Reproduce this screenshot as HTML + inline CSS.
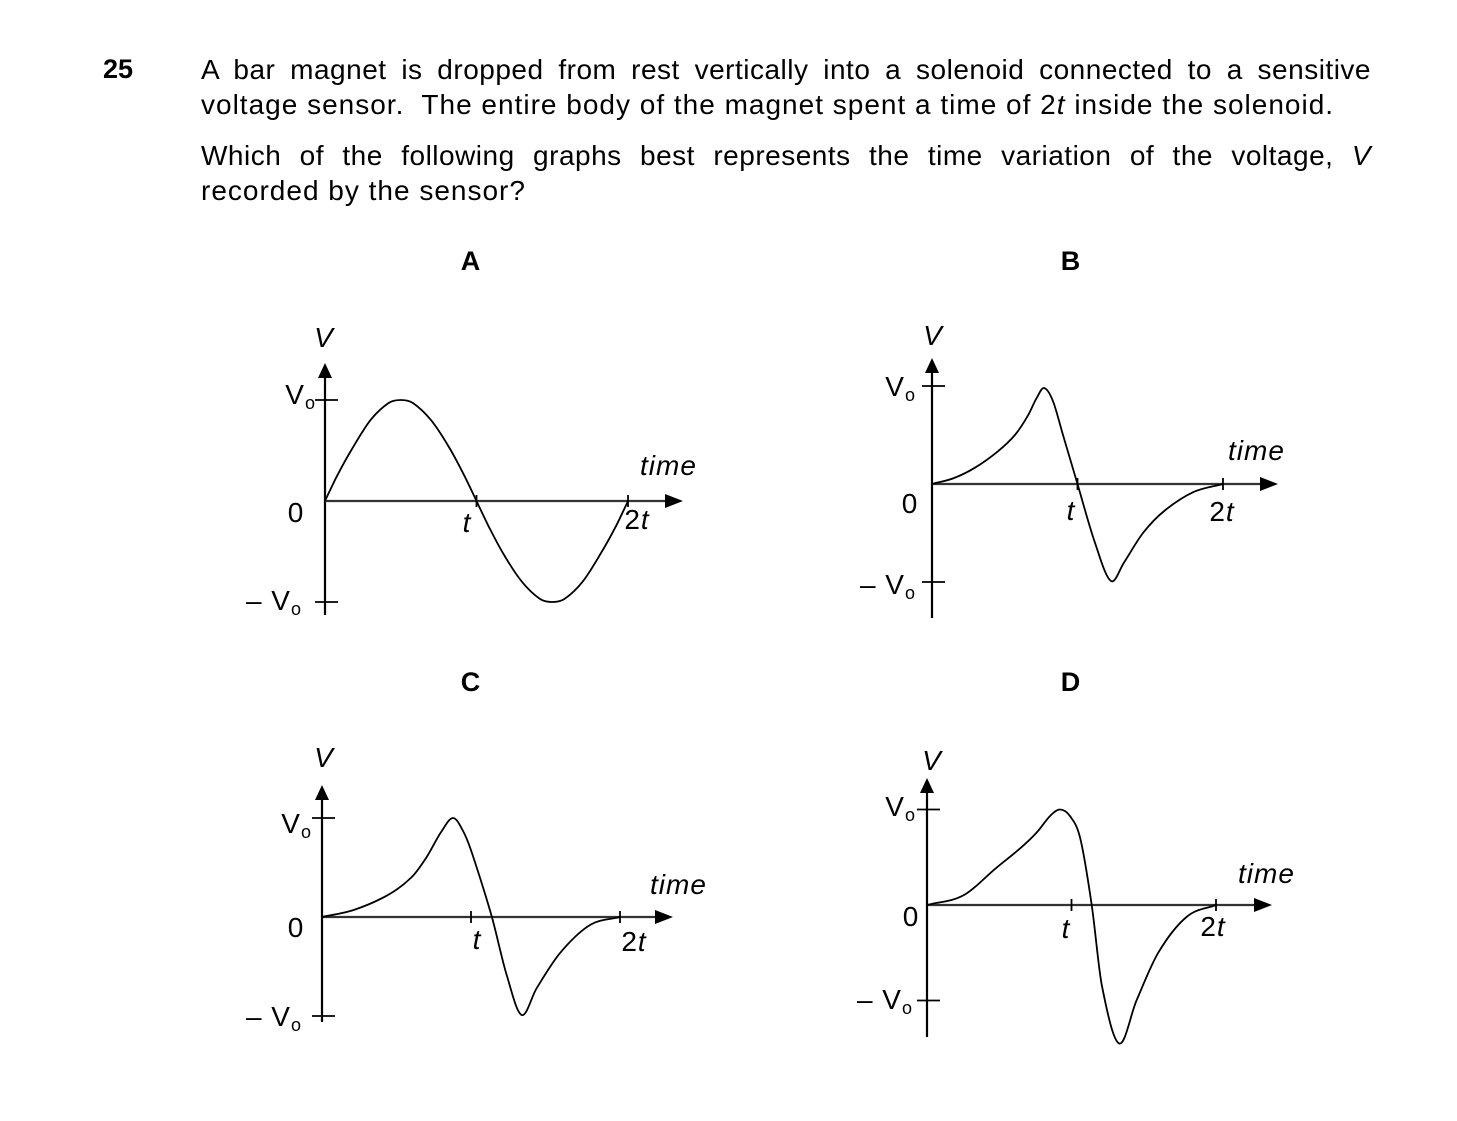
<!DOCTYPE html>
<html><head><meta charset="utf-8"><style>
html,body{margin:0;padding:0;background:#fff;}
body{width:1457px;height:1121px;position:relative;overflow:hidden;font-family:"Liberation Sans",Arial,sans-serif;color:#000;}
.ln{position:absolute;left:201px;width:1170px;font-size:28px;letter-spacing:1px;line-height:35px;white-space:nowrap;}
.j{text-align:justify;text-align-last:justify;letter-spacing:0.5px;}
svg text{font-family:"Liberation Sans",Arial,sans-serif;letter-spacing:1px;}
</style></head><body>
<div style="position:absolute;left:103px;top:54px;font-size:27px;font-weight:bold;">25</div>
<div class="ln j" style="top:52px;">A bar magnet is dropped from rest vertically into a solenoid connected to a sensitive</div>
<div class="ln" style="top:87px;">voltage sensor.&nbsp; The entire body of the magnet spent a time of 2<i>t</i> inside the solenoid.</div>
<div class="ln j" style="top:138px;">Which of the following graphs best represents the time variation of the voltage, <i>V</i></div>
<div class="ln" style="top:173px;">recorded by the sensor?</div>

<svg id="chart" width="1457" height="1121" style="position:absolute;left:0;top:0"></svg>
<script>
// Curve data: time in units of t, voltage in units of V0
const timeA = [0,0.08,0.18,0.3,0.42,0.5,0.58,0.7,0.82,0.92,1.0,1.08,1.18,1.3,1.42,1.5,1.58,1.7,1.82,1.92,2.0];
const voltA = [0,0.25,0.52,0.8,0.97,1.0,0.97,0.8,0.53,0.25,0,-0.25,-0.53,-0.8,-0.97,-1.0,-0.97,-0.8,-0.52,-0.25,0];
const timeB = [0,0.15,0.3,0.45,0.57,0.66,0.72,0.77,0.83,0.9,1.0,1.12,1.23,1.32,1.45,1.6,1.8,2.0];
const voltB = [0,0.06,0.17,0.33,0.5,0.7,0.88,0.98,0.85,0.5,0,-0.6,-0.99,-0.8,-0.5,-0.27,-0.08,0];
const timeC = [0,0.21,0.44,0.6,0.7,0.8,0.88,0.95,1.01,1.14,1.24,1.34,1.44,1.6,1.8,2.0];
const voltC = [0,0.07,0.22,0.4,0.6,0.86,1.0,0.86,0.63,0,-0.59,-0.99,-0.72,-0.36,-0.08,0];
const timeD = [0,0.25,0.48,0.65,0.76,0.85,0.92,0.99,1.06,1.14,1.21,1.33,1.45,1.6,1.8,2.0];
const voltD = [0,0.1,0.39,0.6,0.76,0.93,1.0,0.93,0.7,0,-0.84,-1.45,-1.0,-0.5,-0.12,0];
const panelLetters = ['A','B','C','D'];

const NS='http://www.w3.org/2000/svg';
const svg=document.getElementById('chart');
function mk(tag,attrs,parent){const e=document.createElementNS(NS,tag);for(const k in attrs)e.setAttribute(k,attrs[k]);(parent||svg).appendChild(e);return e;}

const panels=[
 {ox:325,oy:501,sx:151.5,sy:101,top:363,bot:615,arr:683,lx:471,ly:270,t:timeA,v:voltA,
  lab:{V:[324,347],Vo:[316,404],z:[296,522],nVo:[302,610],time:[640,475],tt:[467,532],t2:[637,529]}},
 {ox:932,oy:484,sx:145.5,sy:98,top:358,bot:618,arr:1278,lx:1071,ly:270,t:timeB,v:voltB,
  lab:{V:[933,345],Vo:[916,396],z:[910,513],nVo:[916,594],time:[1228,460],tt:[1071,520],t2:[1222,521]}},
 {ox:322,oy:917,sx:149,sy:99,top:785,bot:1022,arr:673,lx:471,ly:691,t:timeC,v:voltC,
  lab:{V:[324,767],Vo:[312,833],z:[296,937],nVo:[302,1026],time:[650,894],tt:[477,949],t2:[634,951]}},
 {ox:927,oy:905,sx:144.5,sy:95.5,top:778,bot:1037,arr:1272,lx:1071,ly:691,t:timeD,v:voltD,
  lab:{V:[932,770],Vo:[916,816],z:[911,926],nVo:[913,1009],time:[1238,883],tt:[1066,938],t2:[1213,936]}}
];

function smoothPath(pts){
  const n=pts.length, m=[];
  for(let i=0;i<n;i++){
    const a=pts[Math.max(0,i-1)], b=pts[Math.min(n-1,i+1)];
    m.push((b[1]-a[1])/(b[0]-a[0]));
  }
  let d='M'+pts[0][0].toFixed(1)+','+pts[0][1].toFixed(1);
  for(let i=0;i<n-1;i++){
    const p1=pts[i],p2=pts[i+1],dx=(p2[0]-p1[0])/3;
    d+=' C'+(p1[0]+dx).toFixed(1)+','+(p1[1]+m[i]*dx).toFixed(1)+' '+(p2[0]-dx).toFixed(1)+','+(p2[1]-m[i+1]*dx).toFixed(1)+' '+p2[0].toFixed(1)+','+p2[1].toFixed(1);
  }
  return d;
}
function vLabel(g,x,y,prefix){
  const tx=mk('text',{x:x,y:y,'font-size':28,'text-anchor':'end'},g);
  tx.appendChild(document.createTextNode(prefix+'V'));
  const s=mk('tspan',{'font-size':18,dy:5},tx);s.textContent='o';
  return tx;
}

panels.forEach((p,i)=>{
  const g=mk('g',{});
  
  
  const xS=tv=>p.ox+tv*p.sx, yS=vv=>p.oy-vv*p.sy;
  const L=mk('text',{x:p.lx,y:p.ly,'font-size':27,'font-weight':'bold','text-anchor':'middle'},g);
  L.textContent=panelLetters[i];
  
  
  const ya=mk('line',{x1:p.ox,y1:p.top+12,x2:p.ox,y2:p.bot,stroke:'#000','stroke-width':2.2},g);
  
  
  mk('polygon',{points:(p.ox-7)+','+(p.top+15)+' '+(p.ox+7)+','+(p.top+15)+' '+p.ox+','+p.top,fill:'#000'},g);
  const xa=mk('line',{x1:p.ox,y1:p.oy,x2:p.arr-14,y2:p.oy,stroke:'#333','stroke-width':2.2},g);
  
  
  mk('polygon',{points:(p.arr-18)+','+(p.oy-7)+' '+(p.arr-18)+','+(p.oy+7)+' '+p.arr+','+p.oy,fill:'#000'},g);
  [1,-1].forEach(v=>mk('line',{x1:p.ox-10,x2:p.ox+13,y1:yS(v),y2:yS(v),stroke:'#000','stroke-width':1.8},g));
  [1,2].forEach(tv=>mk('line',{x1:xS(tv),x2:xS(tv),y1:p.oy-6,y2:p.oy+6,stroke:'#000','stroke-width':1.8},g));
  const a=p.lab;
  const tV=mk('text',{x:a.V[0],y:a.V[1],'font-size':28,'font-style':'italic','text-anchor':'middle'},g);tV.textContent='V';
  
  
  vLabel(g,a.Vo[0],a.Vo[1],'');
  const z=mk('text',{x:a.z[0],y:a.z[1],'font-size':28,'text-anchor':'middle'},g);z.textContent='0';
  vLabel(g,a.nVo[0],a.nVo[1],'– ');
  const tm=mk('text',{x:a.time[0],y:a.time[1],'font-size':28,'font-style':'italic'},g);tm.textContent='time';
  
  
  const t1=mk('text',{x:a.tt[0],y:a.tt[1],'font-size':28,'font-style':'italic','text-anchor':'middle'},g);t1.textContent='t';
  const t2=mk('text',{x:a.t2[0],y:a.t2[1],'font-size':28,'text-anchor':'middle'},g);
  t2.appendChild(document.createTextNode('2'));
  const it=mk('tspan',{'font-style':'italic'},t2);it.textContent='t';
  const pts=p.t.map((tv,k)=>[xS(tv),yS(p.v[k])]);
  const c=mk('path',{d:smoothPath(pts),fill:'none',stroke:'#000','stroke-width':1.8},g);
  
  
});
</script>
</body></html>
